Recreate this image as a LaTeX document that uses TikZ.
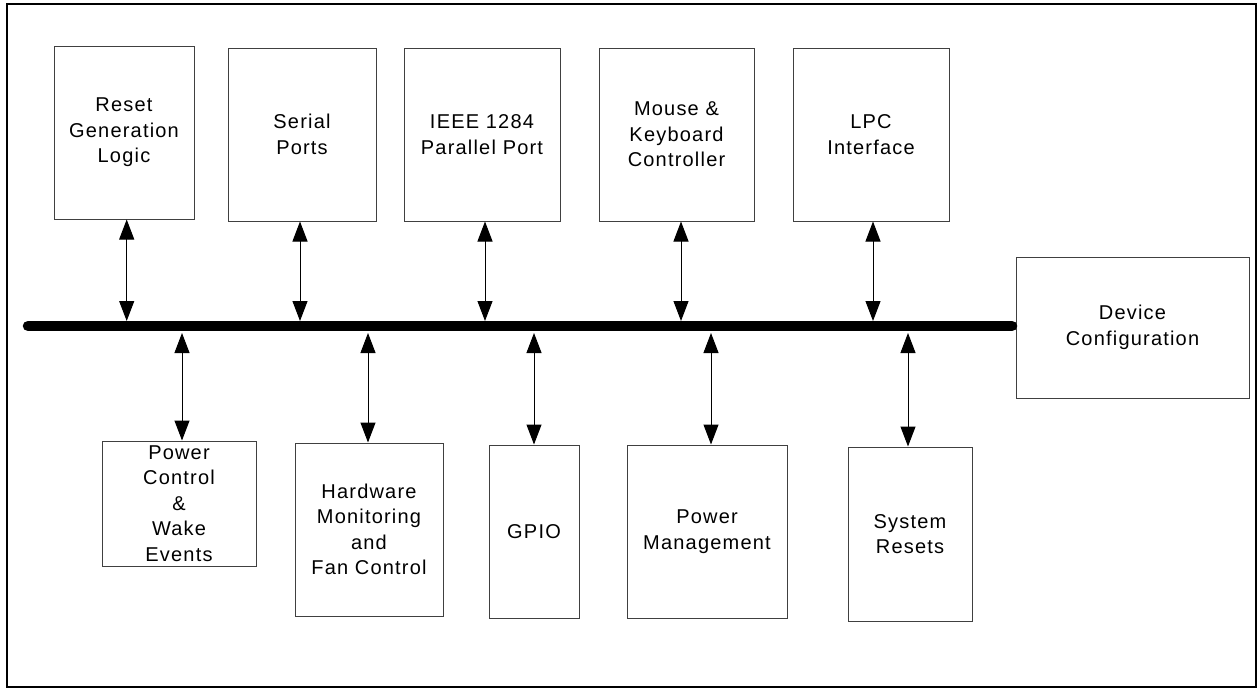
\documentclass[tikz,border=0pt]{standalone}
\usepackage{fontspec}
\setmainfont{Liberation Sans}[LetterSpace=6]
\usetikzlibrary{arrows.meta}
\tikzset{
  blk/.style={draw=black!75, line width=1pt, align=center, inner sep=0pt,
    font=\fontsize{20}{25.5}\selectfont},
  biarrow/.style={line width=1pt,
    {Triangle[length=20pt,width=15pt]}-{Triangle[length=20pt,width=15pt]}},
  busline/.style={line width=10.5pt, line cap=round},
  frame/.style={line width=2.5pt}
}
\begin{document}
\begin{tikzpicture}[x=1pt,y=-1pt]
\useasboundingbox (0,0) rectangle (1258,689);
\draw[frame] (7,4) rectangle (1256,687);
% top boxes
\node[blk, minimum width=140pt, minimum height=173pt] (reset) at (124,132.5) {Reset\\Generation\\Logic};
\node[blk, minimum width=148pt, minimum height=173pt] (serial) at (302,134.5) {Serial\\Ports};
\node[blk, minimum width=156pt, minimum height=173pt] (ieee) at (482,134.5) {IEEE 1284\\Parallel Port};
\node[blk, minimum width=155pt, minimum height=173pt] (mouse) at (676.5,134.5) {Mouse \&\\Keyboard\\Controller};
\node[blk, minimum width=156pt, minimum height=173pt] (lpc) at (871,134.5) {LPC\\Interface};
% device configuration
\node[blk, minimum width=233pt, minimum height=141pt] (devcfg) at (1132.5,327.5) {Device\\Configuration};
% bottom boxes
\node[blk, minimum width=154pt, minimum height=125pt] (pwrctl) at (179,503.5) {Power\\Control\\\&\\Wake\\Events};
\node[blk, minimum width=148pt, minimum height=173pt] (hwmon) at (369,529.5) {Hardware\\Monitoring\\and\\Fan Control};
\node[blk, minimum width=90pt, minimum height=173pt] (gpio) at (534,531.5) {GPIO};
\node[blk, minimum width=160pt, minimum height=173pt] (pwrmgmt) at (707,531.5) {Power\\Management};
\node[blk, minimum width=124pt, minimum height=174pt] (sysres) at (910,534) {System\\Resets};
% bus
\coordinate (busL) at (28,326);
\coordinate (busR) at (1012,326);
\draw[busline] (busL) -- (busR);
% top arrows
\coordinate (t1) at (126.7,321);
\coordinate (t2) at (300,321);
\coordinate (t3) at (485,321);
\coordinate (t4) at (681,321);
\coordinate (t5) at (873,321);
\draw[biarrow] (reset.south -| t1) -- (t1);
\draw[biarrow] (serial.south -| t2) -- (t2);
\draw[biarrow] (ieee.south -| t3) -- (t3);
\draw[biarrow] (mouse.south -| t4) -- (t4);
\draw[biarrow] (lpc.south -| t5) -- (t5);
% bottom arrows
\coordinate (u1) at (182,333);
\coordinate (u2) at (368,333);
\coordinate (u3) at (534,333);
\coordinate (u4) at (711,333);
\coordinate (u5) at (908,333);
\draw[biarrow] (u1) -- (u1 |- pwrctl.north);
\draw[biarrow] (u2) -- (u2 |- hwmon.north);
\draw[biarrow] (u3) -- (u3 |- gpio.north);
\draw[biarrow] (u4) -- (u4 |- pwrmgmt.north);
\draw[biarrow] (u5) -- (u5 |- sysres.north);
\end{tikzpicture}
\end{document}
